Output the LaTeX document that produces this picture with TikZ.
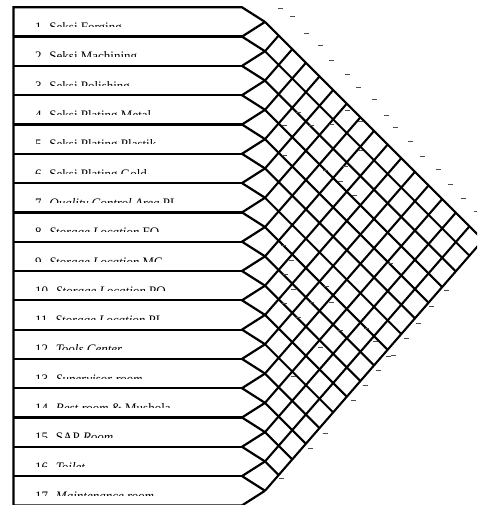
\documentclass[tikz,border=0pt]{standalone}
\usepackage{fontspec}
\setmainfont{Liberation Serif}
\begin{document}
\begin{tikzpicture}[x=1pt,y=-1pt]
\tikzset{
  frame/.style={line width=2.2pt, line join=miter, line cap=butt},
  grid/.style={line width=2.1pt, line cap=butt},
  mk/.style={line width=0.9pt, black!70},
  lbl/.style={anchor=base west, inner sep=0pt, font=\fontsize{13}{13}\selectfont}
}
\useasboundingbox (0,0) rectangle (477,505);
\clip (0,0) rectangle (477,505);
\def\p{29.3}
\def\yo{7.3}
\def\aa{1.0}
\def\bb{1.15}
% coordinates
\foreach \i in {1,...,17} {\coordinate (T\i) at (265,{\yo+\p*(\i-0.5)});}
\foreach \k in {0,...,17} {\coordinate (N\k) at (242,{\yo+\p*\k}); \coordinate (L\k) at (13.5,{\yo+\p*\k});}
% labels (clipped like the original)
\foreach \k/\t in {
 1/{1.\hspace{4.5pt}Seksi Forging},
 2/{2.\hspace{4.5pt}Seksi Machining},
 3/{3.\hspace{4.5pt}Seksi Polishing},
 4/{4.\hspace{4.5pt}Seksi Plating Metal},
 5/{5.\hspace{4.5pt}Seksi Plating Plastik},
 6/{6.\hspace{4.5pt}Seksi Plating Gold},
 7/{7.\hspace{4.5pt}\textit{Quality Control Area} PL},
 8/{8.\hspace{4.5pt}\textit{Storage Location} FO},
 9/{9.\hspace{4.5pt}\textit{Storage Location} MC},
 10/{10.\hspace{4.5pt}\textit{Storage Location} PO},
 11/{11.\hspace{4.5pt}\textit{Storage Location} PL},
 12/{12.\hspace{4.5pt}\textit{Tools Center}},
 13/{13.\hspace{4.5pt}\textit{Supervisor room}},
 14/{14.\hspace{4.5pt}\textit{Rest room} \& Mushola},
 15/{15.\hspace{4.5pt}SAP \textit{Room}},
 16/{16.\hspace{4.5pt}\textit{Toilet}},
 17/{17.\hspace{4.5pt}\textit{Maintenance room}}} {
  \begin{scope}
    \clip (15,{\yo+\p*(\k-1)}) rectangle (240,{\yo+\p*(\k-1)+19.5});
    \node[lbl] (R\k) at (35,{\yo+\p*(\k-1)+24.3}) {\t};
  \end{scope}
}
% frame: left border, row lines, arrow ends
\draw[frame] (13.5,510) -- (L0) -- (N0) -- (T1);
\foreach \k in {1,...,16} {
  \pgfmathtruncatemacro{\kn}{\k+1}
  \draw[frame] (L\k) -- (N\k);
  \draw[frame] (T\k) -- (N\k) -- (T\kn);
}
\draw[frame] (L17) -- (N17) -- (T17);
% lattice
\foreach \i in {1,...,16} {
  \pgfmathsetmacro{\d}{\p*(17-\i)/(\aa+\bb)}
  \draw[grid] (T\i) -- ++(\d,{\aa*\d});
}
\foreach \j in {2,...,17} {
  \pgfmathsetmacro{\d}{\p*(\j-1)/(\aa+\bb)}
  \draw[grid] (T\j) -- ++(\d,{-\bb*\d});
}
% illegible rating marks
\foreach \x/\y in {280/8.3,292.7/16,306.7/33.3,320.7/45,331.7/60,347.7/74,358/87,374/99,386.7/115,395/127.7,410.7/141.7,422/156.7,438/169,450/184,463/198,476.7/211.7,
 298.3/112.7,284/125,311.7/125,331.7/124,347.3/110,360/121.7,284/155,325/170,340/181.7,345/166.7,360/150,354/195,
 283.3/245.7,291.7/260,285/274,293.3/289.3,284/303.3,311.7/302.7,298.3/317.3,326.7/286,331.7/302.7,340/330,320.7/347.3,366.7/328.3,375/341.7,293.3/376.7,388/356.7,390/263.3,
 281.7/478.3,310/448.3,325/433.3,353.3/400,365/385,378.3/370,393.3/355,406.7/338.3,418.3/323.3,431.7/306.7,446.7/290} {
  \draw[mk] ({\x-2.5},\y) -- ({\x+2.5},\y);
}
\end{tikzpicture}
\end{document}
